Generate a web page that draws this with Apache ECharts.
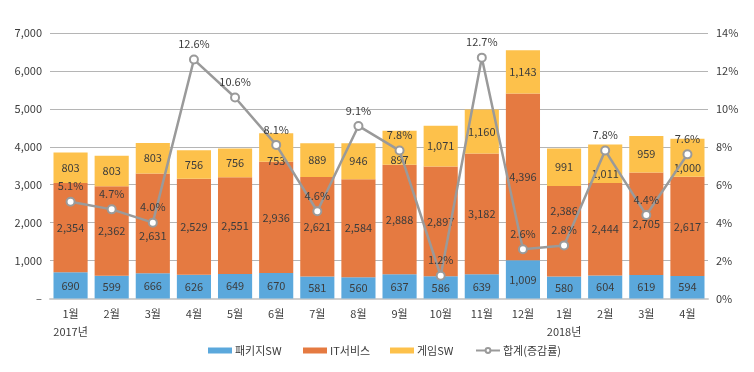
<!DOCTYPE html>
<html>
<head>
<meta charset="utf-8">
<script src="https://cdn.jsdelivr.net/npm/echarts@6/dist/echarts.min.js"></script>
<style>
html,body{margin:0;padding:0;background:#fff;}
#chart{width:754px;height:372px;}
</style>
</head>
<body>
<div id="chart"></div>
<script>
const categories = ['1월\n2017년','2월','3월','4월','5월','6월','7월','8월','9월','10월','11월','12월','1월\n2018년','2월','3월','4월'];
const packageSW = [690,599,666,626,649,670,581,560,637,586,639,1009,580,604,619,594];
const itService = [2354,2362,2631,2529,2551,2936,2621,2584,2888,2897,3182,4396,2386,2444,2705,2617];
const gameSW = [803,803,803,756,756,753,889,946,897,1071,1160,1143,991,1011,959,1000];
const growth = [5.1,4.7,4.0,12.6,10.6,8.1,4.6,9.1,7.8,1.2,12.7,2.6,2.8,7.8,4.4,7.6];
const leftTicks = [0,1000,2000,3000,4000,5000,6000,7000];
const rightTicks = [0,2,4,6,8,10,12,14];

const FONT = '"Noto Sans CJK KR", "Noto Sans", sans-serif';
const TXT = '#3c3c3c';
const FS = 11;
const fmt = v => v.toLocaleString('en-US');

// label nudges (pixels, vertical) to keep labels clear of the line, as in the reference
const itNudge = {2: 12, 12: -20};
const gameNudge = {5: 13, 8: 12, 13: 10, 15: 10};

const barLabel = {
  show: true, position: 'inside', color: TXT, fontSize: FS, fontFamily: FONT,
  formatter: p => fmt(p.value)
};
const withNudge = (vals, nudge) => vals.map((v, i) =>
  nudge[i] !== undefined ? {value: v, label: {offset: [0, nudge[i]]}} : v);

const legendBase = {
  bottom: 11, itemWidth: 24, itemHeight: 6, itemGap: 0,
  textStyle: {color: TXT, fontSize: FS, fontFamily: FONT, padding: [0, 0, 0, -2]}
};

const chart = echarts.init(document.getElementById('chart'), null, {renderer: 'canvas'});
chart.setOption({
  animation: false,
  backgroundColor: '#fff',
  textStyle: {fontFamily: FONT},
  grid: {left: 50, right: 46, top: 33, bottom: 73.5, containLabel: false},
  legend: [
    Object.assign({}, legendBase, {left: 203, data: [{name: '패키지SW', icon: 'rect'}]}),
    Object.assign({}, legendBase, {left: 298, data: [{name: 'IT서비스', icon: 'rect'}]}),
    Object.assign({}, legendBase, {left: 385, data: [{name: '게임SW', icon: 'rect'}]}),
    Object.assign({}, legendBase, {left: 470, data: [{name: '합계(증감률)'}]})
  ],
  xAxis: {
    type: 'category', data: categories,
    axisLine: {show: true, lineStyle: {color: '#cfcfcf', width: 2}},
    axisTick: {show: false},
    axisLabel: {interval: 0, color: TXT, fontSize: FS, fontFamily: FONT, margin: 6, lineHeight: 18}
  },
  yAxis: [
    {
      type: 'value', min: 0, max: 7000, interval: 1000,
      axisLine: {show: false}, axisTick: {show: false},
      splitLine: {lineStyle: {color: '#b5b5b5', width: 1}},
      axisLabel: {color: TXT, fontSize: FS, fontFamily: FONT, margin: 8,
        formatter: v => v === 0 ? '–' : fmt(v)}
    },
    {
      type: 'value', min: 0, max: 14, interval: 2,
      axisLine: {show: false}, axisTick: {show: false},
      splitLine: {show: false},
      axisLabel: {color: TXT, fontSize: FS, fontFamily: FONT, margin: 8,
        formatter: v => v + '%'}
    }
  ],
  series: [
    {name: '패키지SW', type: 'bar', stack: 'total', data: packageSW, barCategoryGap: '17%',
      itemStyle: {color: '#5BA8DC'}, label: barLabel},
    {name: 'IT서비스', type: 'bar', stack: 'total', data: withNudge(itService, itNudge),
      itemStyle: {color: '#E57A41'}, label: barLabel},
    {name: '게임SW', type: 'bar', stack: 'total', data: withNudge(gameSW, gameNudge),
      itemStyle: {color: '#FDC14B'}, label: barLabel},
    {name: '합계(증감률)', type: 'line', yAxisIndex: 1, data: growth,
      symbol: 'circle', symbolSize: 8,
      lineStyle: {color: '#9a9a9a', width: 2.5},
      itemStyle: {color: '#fff', borderColor: '#9a9a9a', borderWidth: 2},
      label: {show: true, position: 'top', distance: 5, color: TXT, fontSize: FS, fontFamily: FONT,
        formatter: p => p.value.toFixed(1) + '%'},
      z: 5}
  ]
});
</script>
</body>
</html>
